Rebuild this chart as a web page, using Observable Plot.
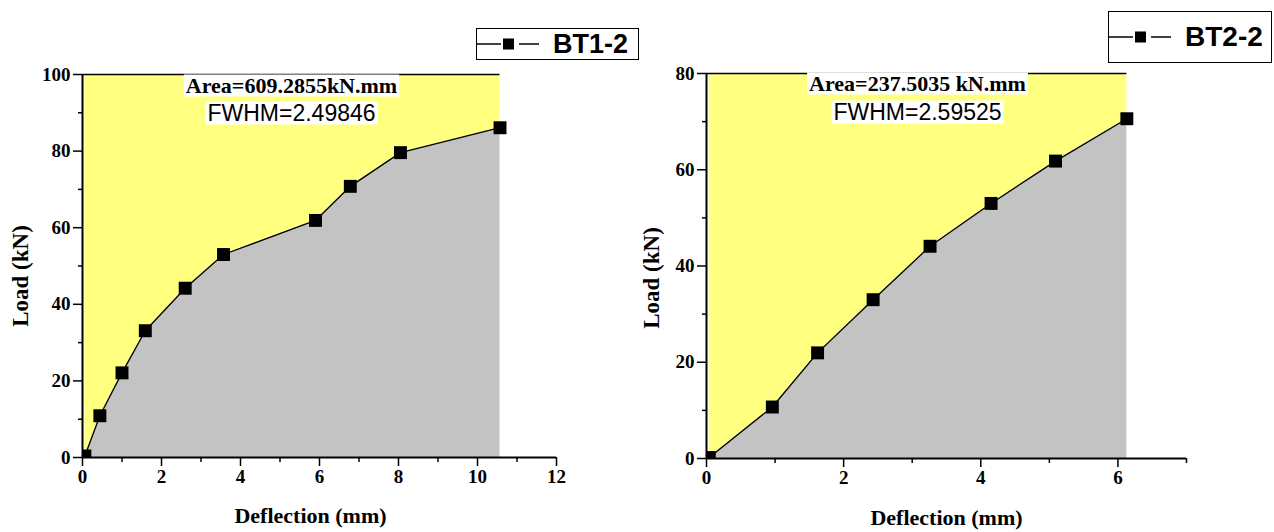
<!DOCTYPE html>
<html><head><meta charset="utf-8">
<script src="https://cdn.jsdelivr.net/npm/d3@7"></script>
<script src="https://cdn.jsdelivr.net/npm/@observablehq/plot@0.6"></script>
<style>
html,body{margin:0;padding:0;background:#fff;}
#root{position:relative;width:1274px;height:532px;overflow:hidden;}
.panel{position:absolute;top:0;}
.legend{position:absolute;box-sizing:border-box;border:1.5px solid #000;background:#fff;display:flex;align-items:center;font-family:"Liberation Sans",Arial,sans-serif;font-weight:bold;color:#000;}
.legend svg{display:block;margin-right:14px;}
</style></head><body>
<div id="root"></div>
<script>
// ---- data ----
const bt1Deflection = [0.06, 0.44, 1.00, 1.59, 2.60, 3.57, 5.90, 6.78, 8.05, 10.57];
const bt1Load       = [0.4, 10.9, 22.1, 33.1, 44.2, 53.0, 61.9, 70.8, 79.6, 86.1];
const bt2Deflection = [0.04, 0.96, 1.62, 2.43, 3.26, 4.15, 5.09, 6.13];
const bt2Load       = [0.2, 10.7, 21.95, 33.0, 44.1, 53.0, 61.8, 70.6];

const bt1XTicks = [0, 2, 4, 6, 8, 10, 12];
const bt1XMinor = [1, 3, 5, 7, 9, 11];
const bt1YTicks = [0, 20, 40, 60, 80, 100];
const bt1YMinor = [10, 30, 50, 70, 90];
const bt2XTicks = [0, 2, 4, 6];
const bt2XMinor = [1, 3, 5, 7];
const bt2YTicks = [0, 20, 40, 60, 80];
const bt2YMinor = [10, 30, 50, 70];

const seriesNames = ["BT1-2", "BT2-2"];
const areaLabels = ["Area=609.2855kN.mm", "Area=237.5035 kN.mm"];
const fwhmLabels = ["FWHM=2.49846", "FWHM=2.59525"];
const xLabel = "Deflection (mm)";
const yLabel = "Load (kN)";

const root = document.getElementById("root");

function panel(cfg) {
  const data = cfg.x.map((x, i) => ({x, y: cfg.y[i]}));
  const xmax = d3.max(cfg.x);
  const ytop = cfg.yDomain[1];
  const serif = "Liberation Serif, Times New Roman, serif";
  const sans = "Liberation Sans, Arial, sans-serif";
  const tickText = {fontFamily: serif, fontWeight: "bold", fontSize: 19, fill: "#000"};
  const plot = Plot.plot({
    width: 637, height: 532,
    marginLeft: cfg.ml, marginRight: cfg.mr, marginTop: cfg.mt, marginBottom: cfg.mb,
    x: {domain: cfg.xDomain},
    y: {domain: cfg.yDomain},
    style: {fontFamily: serif, background: "transparent", overflow: "visible"},
    marks: [
      Plot.areaY(data, {x: "x", y1: "y", y2: ytop, fill: "#ffff80"}),
      Plot.areaY(data, {x: "x", y1: 0, y2: "y", fill: "#c3c3c3"}),
      Plot.ruleY([ytop], {x1: 0, x2: xmax, stroke: "#000", strokeWidth: 1.5}),
      Plot.line(data, {x: "x", y: "y", stroke: "#000", strokeWidth: 1.3}),
      Plot.dot(data, {x: "x", y: "y", symbol: "square", r: 7.3, fill: "#000", stroke: "none", clip: true}),
      Plot.ruleX([0], {y1: 0, y2: ytop, stroke: "#000", strokeWidth: 2}),
      Plot.ruleY([0], {stroke: "#000", strokeWidth: 2}),
      Plot.axisX(cfg.xTicks, {tickSize: 9, tickPadding: 3, strokeWidth: 1.5, stroke: "#000", label: null, ...tickText}),
      Plot.axisX(cfg.xMinor, {tickSize: 5, strokeWidth: 1.5, stroke: "#000", text: null, label: null}),
      Plot.axisY(cfg.yTicks, {tickSize: 9, tickPadding: 3, strokeWidth: 1.5, stroke: "#000", label: null, ...tickText}),
      Plot.axisY(cfg.yMinor, {tickSize: 4, strokeWidth: 1.5, stroke: "#000", text: null, label: null}),
      Plot.text([yLabel], {frameAnchor: "left", textAnchor: "middle", dx: cfg.ylDx, dy: cfg.ylDy, rotate: -90, fontFamily: serif, fontWeight: "bold", fontSize: 23, fill: "#000"}),
      Plot.text([xLabel], {frameAnchor: "bottom", dx: cfg.xlDx, dy: cfg.xlDy, lineAnchor: "bottom", fontFamily: serif, fontWeight: "bold", fontSize: 22, fill: "#000"}),
      Plot.text([cfg.area], {frameAnchor: "top", dx: cfg.anDx, dy: cfg.areaDy, lineAnchor: "bottom", fontFamily: serif, fontWeight: "bold", fontSize: 22, fill: "#000", className: "annot"}),
      Plot.text([cfg.fwhm], {frameAnchor: "top", dx: cfg.anDx, dy: cfg.fwhmDy, lineAnchor: "bottom", fontFamily: sans, fontSize: 23, fill: "#000", className: "annot"})
    ]
  });
  plot.classList.add("panel");
  plot.style.left = cfg.left + "px";
  root.appendChild(plot);
  // white boxes behind annotation texts
  d3.select(plot).selectAll("g.annot text").each(function() {
    const b = this.getBBox();
    const t = this.getAttribute("transform");
    d3.select(this.parentNode).insert("rect", () => this)
      .attr("transform", t)
      .attr("x", b.x - 2).attr("y", b.y + 2).attr("width", b.width + 4).attr("height", b.height - 3)
      .attr("fill", "#fff");
  });
}

panel({
  x: bt1Deflection, y: bt1Load, xDomain: [0, 12], yDomain: [0, 100],
  xTicks: bt1XTicks, xMinor: bt1XMinor, yTicks: bt1YTicks, yMinor: bt1YMinor,
  left: 0, ml: 82, mr: 81, mt: 74, mb: 75,
  ylDx: -62, ylDy: 10, xlDx: -9, xlDy: 65,
  area: areaLabels[0], fwhm: fwhmLabels[0], anDx: -28, areaDy: 18, fwhmDy: 46
});
panel({
  x: bt2Deflection, y: bt2Load, xDomain: [0, 7], yDomain: [0, 80],
  xTicks: bt2XTicks, xMinor: bt2XMinor, yTicks: bt2YTicks, yMinor: bt2YMinor,
  left: 637, ml: 69, mr: 88, mt: 73, mb: 74,
  ylDx: -55, ylDy: 12, xlDx: 0, xlDy: 66,
  area: areaLabels[1], fwhm: fwhmLabels[1], anDx: -29, areaDy: 17, fwhmDy: 46
});

function legend(name, box) {
  const div = document.createElement("div");
  div.className = "legend";
  Object.assign(div.style, {left: box.left + "px", top: box.top + "px", width: box.w + "px", height: box.h + "px", fontSize: box.fs + "px"});
  const s = d3.create("svg").attr("width", 62).attr("height", 14);
  s.append("line").attr("x1", 0).attr("x2", 24).attr("y1", 7).attr("y2", 7).attr("stroke", "#000").attr("stroke-width", 1.5);
  s.append("rect").attr("x", 26).attr("y", 1.5).attr("width", 11).attr("height", 11).attr("fill", "#000");
  s.append("line").attr("x1", 42).attr("x2", 62).attr("y1", 7).attr("y2", 7).attr("stroke", "#000").attr("stroke-width", 1.5);
  div.appendChild(s.node());
  const span = document.createElement("span");
  span.textContent = name;
  div.appendChild(span);
  root.appendChild(div);
}
legend(seriesNames[0], {left: 476, top: 28, w: 163, h: 32, fs: 27});
legend(seriesNames[1], {left: 1108, top: 11, w: 164, h: 52, fs: 28});
</script>
</body></html>
